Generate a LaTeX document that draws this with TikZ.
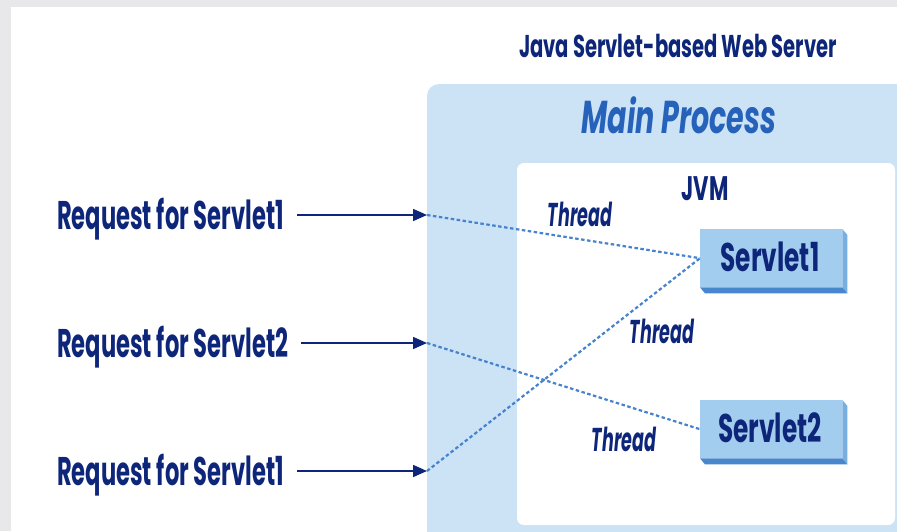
\documentclass[tikz,border=0pt]{standalone}
\usepackage{fontspec}
\usetikzlibrary{arrows.meta}
\setmainfont{Poppins}
\newfontfamily\condfont{Poppins}[FakeStretch=0.62]
\newfontfamily\narrowfont{Poppins}[FakeStretch=0.565]
\newfontfamily\threadfont{Poppins}[FakeStretch=0.53]
\definecolor{navy}{RGB}{14,38,122}
\definecolor{procblue}{RGB}{38,98,186}
\definecolor{procbg}{RGB}{204,227,246}
\definecolor{threadline}{RGB}{70,130,205}
\definecolor{sfront}{RGB}{163,205,238}
\definecolor{sright}{RGB}{120,175,225}
\definecolor{sbottom}{RGB}{72,135,205}
\definecolor{framegray}{RGB}{232,232,234}
\tikzset{
  lbl/.style={inner sep=0pt, text=navy, font=\condfont\bfseries},
  reqlbl/.style={lbl, anchor=base west, font=\narrowfont\bfseries\fontsize{40}{40}\selectfont},
  threadlbl/.style={lbl, anchor=base, font=\threadfont\bfseries\itshape\fontsize{33}{33}\selectfont},
  servletbox/.style={fill=sfront, minimum width=142pt, minimum height=58pt, inner sep=0pt},
  reqarrow/.style={draw=navy, line width=1.6pt, -{Triangle[length=14pt,width=12pt]}},
  threadpath/.style={draw=threadline, line width=2.2pt, dash pattern=on 3.5pt off 2.5pt}
}
\begin{document}
\begin{tikzpicture}[x=1pt,y=-1pt]
  \useasboundingbox (0,0) rectangle (897,531);
  \clip (0,0) rectangle (897,531);
  % frame and white panel
  \fill[framegray] (0,0) rectangle (897,531);
  \fill[white] (11,7) rectangle (905,540);
  % main process area
  \fill[procbg, rounded corners=12pt] (427,84) rectangle (910,545);
  % JVM area
  \fill[white, rounded corners=7pt] (517,163) rectangle (895,525);

  % headings
  \node[lbl, anchor=base, font=\condfont\bfseries\fontsize{31.5}{31.5}\selectfont] (server) at (678,57) {Java Servlet-based Web Server};
  \node[lbl, anchor=base, text=procblue, font=\condfont\bfseries\itshape\fontsize{46}{46}\selectfont] (proc) at (679,133) {Main Process};
  \node[lbl, anchor=base, font=\condfont\bfseries\fontsize{34}{34}\selectfont] (jvm) at (705,200) {JVM};

  % entry points on the process boundary
  \coordinate (e1) at (427,215);
  \coordinate (e2) at (427,343);
  \coordinate (e3) at (427,471);

  % servlets
  \node[servletbox, anchor=north west] (s1) at (700,229) {};
  \node[servletbox, anchor=north west] (s2) at (700,400) {};
  \foreach \s in {s1,s2}{
    \fill[sright] (\s.north east) -- ++(5,6) -- ([shift={(5,6)}]\s.south east) -- (\s.south east) -- cycle;
    \fill[sbottom] (\s.south west) -- ++(5,6) -- ([shift={(5,6)}]\s.south east) -- (\s.south east) -- cycle;
  }
  \node[lbl, anchor=base, font=\condfont\bfseries\fontsize{40}{40}\selectfont] (t1) at (770,271) {Servlet1};
  \node[lbl, anchor=base, font=\condfont\bfseries\fontsize{40}{40}\selectfont] (t2) at (770,442) {Servlet2};

  % threads
  \draw[threadpath] (e1) -- (s1.west);
  \draw[threadpath] (e2) -- (s2.west);
  \draw[threadpath] (e3) -- (s1.west);
  \node[threadlbl] (th1) at (580,226) {Thread};
  \node[threadlbl] (th2) at (662,343) {Thread};
  \node[threadlbl] (th3) at (624,451) {Thread};

  % incoming requests
  \node[reqlbl] (r1) at (57,229) {Request for Servlet1};
  \node[reqlbl] (r2) at (57,357) {Request for Servlet2};
  \node[reqlbl] (r3) at (57,485) {Request for Servlet1};
  \draw[reqarrow] ([xshift=13pt]r1.east |- e1) -- (e1);
  \draw[reqarrow] ([xshift=13pt]r2.east |- e2) -- (e2);
  \draw[reqarrow] ([xshift=13pt]r3.east |- e3) -- (e3);
\end{tikzpicture}
\end{document}
